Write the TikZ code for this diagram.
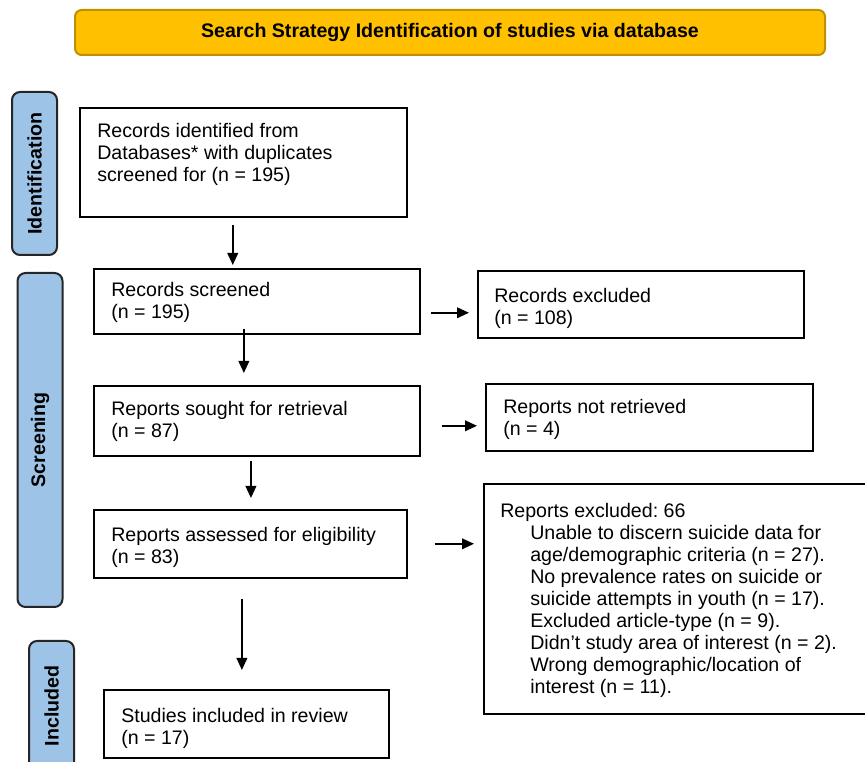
\documentclass[tikz,border=0pt]{standalone}
\usepackage{fontspec}
\setmainfont{Liberation Sans}
\usetikzlibrary{arrows.meta}
\definecolor{bannerfill}{HTML}{FFC000}
\definecolor{bannerline}{HTML}{BF9000}
\definecolor{stagefill}{HTML}{9DC3E6}
\frenchspacing

\begin{document}
\begin{tikzpicture}[x=0.75pt,y=-0.75pt]
\tikzstyle{every node}+=[inner sep=0pt, font=\fontsize{14.7}{16.5}\selectfont]
\tikzstyle{banner}=[draw=bannerline, line width=1.5pt, fill=bannerfill, rounded corners=5pt, minimum width=562.5pt, minimum height=33.75pt, font=\fontsize{14.7}{16.5}\selectfont\bfseries]
\tikzstyle{stage}=[draw=black!85, line width=1.5pt, fill=stagefill, rounded corners=6pt, rotate=90, minimum height=33.75pt, font=\fontsize{14.7}{16.5}\selectfont\bfseries]
\tikzstyle{flowbox}=[draw, line width=1.2pt, anchor=north west]
\tikzstyle{boxtext}=[anchor=north west, align=left]
\tikzstyle{arr}=[line width=1.2pt, -{Triangle[length=9pt,width=8pt]}]
\useasboundingbox (0,0) rectangle (865,762);
\node[banner] (banner) at (450,32.5) {Search Strategy Identification of studies via database};
\node[stage, minimum width=122.25pt] (ident) at (34.5,173.5) {Identification};
\node[stage, minimum width=250.5pt] (screen) at (40,440) {Screening};
\node[flowbox, minimum width=245.25pt, minimum height=81.75pt] (idrec) at (79,107) {};
\node[flowbox, minimum width=244.5pt, minimum height=48.75pt] (screened) at (93,268) {};
\node[flowbox, minimum width=244.5pt, minimum height=52.5pt] (sought) at (93,385) {};
\node[flowbox, minimum width=234.75pt, minimum height=51pt] (assessed) at (93,509) {};
\node[flowbox, minimum width=213.75pt, minimum height=51pt] (studies) at (103,689) {};
\node[flowbox, minimum width=244.5pt, minimum height=50.25pt] (recexcl) at (477,270) {};
\node[flowbox, minimum width=245.25pt, minimum height=50.25pt] (notretr) at (485,383) {};
\begin{scope}
\clip (0,0) rectangle (865,762);
\node[stage, minimum width=97.5pt] (incl) at (51.5,706) {Included};
\node[flowbox, minimum width=287.25pt, minimum height=172.5pt] (repexcl) at (483,483) {};
\end{scope}
\node[boxtext] (idrec-t) at ([shift={(18,16)}]idrec.north west) {Records identified from\\Databases* with duplicates\\screened for (n = 195)};
\node[boxtext] (screened-t) at ([shift={(18,14)}]screened.north west) {Records screened\\(n = 195)};
\node[boxtext] (sought-t) at ([shift={(18,16)}]sought.north west) {Reports sought for retrieval\\(n = 87)};
\node[boxtext] (assessed-t) at ([shift={(18,18)}]assessed.north west) {Reports assessed for eligibility\\(n = 83)};
\node[boxtext] (studies-t) at ([shift={(18,19)}]studies.north west) {Studies included in review\\(n = 17)};
\node[boxtext] (recexcl-t) at ([shift={(17,18)}]recexcl.north west) {Records excluded\\(n = 108)};
\node[boxtext] (notretr-t) at ([shift={(18,16)}]notretr.north west) {Reports not retrieved\\(n = 4)};
\node[boxtext] (repexcl-t) at ([shift={(17,20)}]repexcl.north west) {Reports excluded: 66\\
\hspace*{22.5pt}Unable to discern suicide data for\\
\hspace*{22.5pt}age/demographic criteria (n = 27).\\
\hspace*{22.5pt}No prevalence rates on suicide or\\
\hspace*{22.5pt}suicide attempts in youth (n = 17).\\
\hspace*{22.5pt}Excluded article-type (n = 9).\\
\hspace*{22.5pt}Didn’t study area of interest (n = 2).\\
\hspace*{22.5pt}Wrong demographic/location of\\
\hspace*{22.5pt}interest (n = 11).};
\draw[arr, shorten <=5.25pt, shorten >=2.25pt] ([xshift=-7.9pt]idrec.south) -- ([xshift=-7.9pt]idrec.south |- screened.north);
\draw[arr, shorten <=-4.5pt, shorten >=9pt] ([xshift=-9.7pt]screened.south) -- ([xshift=-9.7pt]screened.south |- sought.north);
\draw[arr, shorten <=3pt, shorten >=8.25pt] ([xshift=-4.4pt]sought.south) -- ([xshift=-4.4pt]sought.south |- assessed.north);
\draw[arr, shorten <=15pt, shorten >=14.25pt] ([xshift=-6.3pt]assessed.south) -- ([xshift=-6.3pt]assessed.south |- studies.north);
\draw[arr, shorten <=7.5pt, shorten >=6pt] ([yshift=-8.6pt]screened.east) -- ([yshift=-8.6pt]screened.east -| recexcl.west);
\draw[arr, shorten <=15.75pt, shorten >=6pt] ([yshift=-3.75pt]sought.east) -- ([yshift=-3.75pt]sought.east -| notretr.west);
\draw[arr, shorten <=20.25pt, shorten >=6.75pt] (assessed.east) -- (assessed.east -| repexcl.west);
\end{tikzpicture}
\end{document}
